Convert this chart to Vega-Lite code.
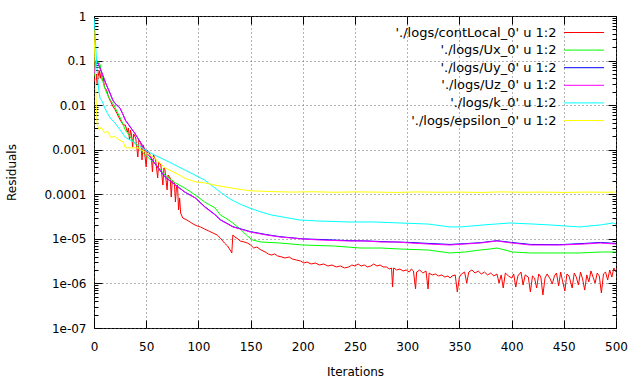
{
"$schema":"https://vega.github.io/schema/vega-lite/v6.json",
"width":522,"height":312,"autosize":"none",
"padding":{"left":94,"top":16,"right":24,"bottom":56},
"background":"white",
"config":{"font":"DejaVu Sans","view":{"stroke":"#000000","strokeWidth":1},
"axis":{"labelFontSize":12,"titleFontSize":12,"titleFontWeight":"normal","labelColor":"#000","titleColor":"#000","tickColor":"#000","tickWidth":1,"tickOpacity":1,"domain":false,"gridDash":[1,3],"gridColor":"#666666","gridWidth":1,"labelFlush":false,"labelOverlap":false,"labelBound":false,"zindex":1}},
"data":{"values":[
{"s":"contLocal","i":0,"v":0.04},{"s":"contLocal","i":1,"v":0.035},{"s":"contLocal","i":2,"v":0.05},{"s":"contLocal","i":3,"v":0.03},{"s":"contLocal","i":4,"v":0.045},{"s":"contLocal","i":5,"v":0.06},{"s":"contLocal","i":6,"v":0.04},{"s":"contLocal","i":7,"v":0.055},{"s":"contLocal","i":8,"v":0.035},{"s":"contLocal","i":9,"v":0.04},{"s":"contLocal","i":10,"v":0.025},{"s":"contLocal","i":12,"v":0.022},{"s":"contLocal","i":14,"v":0.015},{"s":"contLocal","i":16,"v":0.012},{"s":"contLocal","i":18,"v":0.0095},{"s":"contLocal","i":20,"v":0.008},{"s":"contLocal","i":22,"v":0.0065},{"s":"contLocal","i":24,"v":0.0052},{"s":"contLocal","i":26,"v":0.0043},{"s":"contLocal","i":28,"v":0.0036},
{"s":"contLocal","i":30,"v":0.00358},{"s":"contLocal","i":32,"v":0.0025},{"s":"contLocal","i":33,"v":0.00307},{"s":"contLocal","i":34,"v":0.00165},{"s":"contLocal","i":35,"v":0.00277},{"s":"contLocal","i":36,"v":0.00214},{"s":"contLocal","i":37,"v":0.00115},{"s":"contLocal","i":38,"v":0.00225},{"s":"contLocal","i":40,"v":0.00183},{"s":"contLocal","i":42,"v":0.000686},{"s":"contLocal","i":43,"v":0.00165},{"s":"contLocal","i":45,"v":0.00141},{"s":"contLocal","i":46,"v":0.000588},{"s":"contLocal","i":47,"v":0.00128},{"s":"contLocal","i":48,"v":0.00109},{"s":"contLocal","i":50,"v":0.000409},{"s":"contLocal","i":51,"v":0.000986},{"s":"contLocal","i":53,"v":0.000844},{"s":"contLocal","i":55,"v":0.000652},{"s":"contLocal","i":56,"v":0.000316},{"s":"contLocal","i":57,"v":0.000761},{"s":"contLocal","i":59,"v":0.000588},{"s":"contLocal","i":61,"v":0.000232},{"s":"contLocal","i":62,"v":0.00053},{"s":"contLocal","i":64,"v":0.000454},{"s":"contLocal","i":66,"v":0.000161},{"s":"contLocal","i":67,"v":0.000389},{"s":"contLocal","i":68,"v":0.000351},{"s":"contLocal","i":70,"v":0.000125},{"s":"contLocal","i":71,"v":0.000271},{"s":"contLocal","i":73,"v":0.000232},{"s":"contLocal","i":74,"v":0.0000869},{"s":"contLocal","i":75,"v":0.000209},{"s":"contLocal","i":77,"v":0.000179},{"s":"contLocal","i":78,"v":0.0000671},{"s":"contLocal","i":79,"v":0.000146},{"s":"contLocal","i":80,"v":0.000161},{"s":"contLocal","i":81,"v":0.0000444},{"s":"contLocal","i":82,"v":0.0000826},{"s":"contLocal","i":83,"v":0.000038},{"s":"contLocal","i":85,"v":0.0000294},{"s":"contLocal","i":89,"v":0.0000265},{"s":"contLocal","i":92,"v":0.0000239},{"s":"contLocal","i":95,"v":0.0000215},{"s":"contLocal","i":99,"v":0.0000194},{"s":"contLocal","i":102,"v":0.0000185},{"s":"contLocal","i":106,"v":0.0000166},{"s":"contLocal","i":110,"v":0.000015},{"s":"contLocal","i":114,"v":0.0000135},{"s":"contLocal","i":118,"v":0.0000122},{"s":"contLocal","i":121,"v":0.0000104},{"s":"contLocal","i":125,"v":0.00000807},{"s":"contLocal","i":128,"v":0.00000691},{"s":"contLocal","i":131,"v":0.00000534},{"s":"contLocal","i":132,"v":0.00000482},{"s":"contLocal","i":133,"v":0.0000122},{"s":"contLocal","i":135,"v":0.000011},{"s":"contLocal","i":138,"v":0.0000099},{"s":"contLocal","i":140,"v":0.00000895},{"s":"contLocal","i":144,"v":0.0000085},{"s":"contLocal","i":147,"v":0.00000807},{"s":"contLocal","i":150,"v":0.00000728},{"s":"contLocal","i":153,"v":0.00000623},{"s":"contLocal","i":156,"v":0.00000656},{"s":"contLocal","i":160,"v":0.00000562},{"s":"contLocal","i":164,"v":0.00000507},{"s":"contLocal","i":167,"v":0.00000457},{"s":"contLocal","i":170,"v":0.00000434},{"s":"contLocal","i":173,"v":0.00000457},{"s":"contLocal","i":176,"v":0.00000412},{"s":"contLocal","i":180,"v":0.00000392},{"s":"contLocal","i":183,"v":0.00000372},{"s":"contLocal","i":187,"v":0.00000392},{"s":"contLocal","i":190,"v":0.00000353},{"s":"contLocal","i":194,"v":0.00000335},{"s":"contLocal","i":198,"v":0.00000318},{"s":"contLocal","i":201,"v":0.00000287},{"s":"contLocal","i":204,"v":0.00000302},{"s":"contLocal","i":208,"v":0.00000273},{"s":"contLocal","i":212,"v":0.00000287},{"s":"contLocal","i":216,"v":0.00000259},{"s":"contLocal","i":220,"v":0.00000273},{"s":"contLocal","i":224,"v":0.00000246},{"s":"contLocal","i":228,"v":0.00000259},{"s":"contLocal","i":232,"v":0.00000234},{"s":"contLocal","i":236,"v":0.00000246},{"s":"contLocal","i":240,"v":0.00000222},{"s":"contLocal","i":244,"v":0.00000234},{"s":"contLocal","i":247,"v":0.00000259},{"s":"contLocal","i":250,"v":0.00000246},{"s":"contLocal","i":253,"v":0.00000273},{"s":"contLocal","i":256,"v":0.00000246},{"s":"contLocal","i":259,"v":0.00000259},{"s":"contLocal","i":262,"v":0.00000234},{"s":"contLocal","i":265,"v":0.00000246},{"s":"contLocal","i":268,"v":0.00000273},{"s":"contLocal","i":271,"v":0.00000246},{"s":"contLocal","i":274,"v":0.00000259},{"s":"contLocal","i":277,"v":0.00000234},
{"s":"contLocal","i":280,"v":0.00000234},{"s":"contLocal","i":283,"v":0.00000211},{"s":"contLocal","i":285,"v":0.00000222},{"s":"contLocal","i":286,"v":0.00000083},{"s":"contLocal","i":287,"v":0.00000222},{"s":"contLocal","i":290,"v":0.000002},{"s":"contLocal","i":293,"v":0.00000211},{"s":"contLocal","i":296,"v":0.0000019},{"s":"contLocal","i":299,"v":0.000002},{"s":"contLocal","i":302,"v":0.0000018},{"s":"contLocal","i":304,"v":0.00000211},{"s":"contLocal","i":306,"v":0.0000019},{"s":"contLocal","i":308,"v":0.00000075},{"s":"contLocal","i":309,"v":0.0000018},{"s":"contLocal","i":312,"v":0.000002},{"s":"contLocal","i":315,"v":0.00000171},{"s":"contLocal","i":318,"v":0.0000019},{"s":"contLocal","i":320,"v":0.00000075},{"s":"contLocal","i":321,"v":0.00000171},{"s":"contLocal","i":324,"v":0.00000155},{"s":"contLocal","i":327,"v":0.00000163},{"s":"contLocal","i":330,"v":0.00000147},{"s":"contLocal","i":333,"v":0.00000155},{"s":"contLocal","i":336,"v":0.00000139},{"s":"contLocal","i":339,"v":0.00000147},{"s":"contLocal","i":341,"v":0.00000132},{"s":"contLocal","i":343,"v":0.00000147},{"s":"contLocal","i":346,"v":0.00000155},{"s":"contLocal","i":348,"v":0.000000642},{"s":"contLocal","i":350,"v":0.00000139},{"s":"contLocal","i":352,"v":0.00000163},{"s":"contLocal","i":355,"v":0.0000018},{"s":"contLocal","i":357,"v":0.00000102},{"s":"contLocal","i":359,"v":0.0000018},{"s":"contLocal","i":362,"v":0.000002},{"s":"contLocal","i":365,"v":0.00000171},{"s":"contLocal","i":368,"v":0.0000019},{"s":"contLocal","i":371,"v":0.00000163},{"s":"contLocal","i":374,"v":0.0000018},{"s":"contLocal","i":377,"v":0.00000155},{"s":"contLocal","i":380,"v":0.00000171},{"s":"contLocal","i":383,"v":0.00000147},{"s":"contLocal","i":386,"v":0.00000163},{"s":"contLocal","i":388,"v":0.00000102},{"s":"contLocal","i":390,"v":0.00000155},{"s":"contLocal","i":392,"v":0.00000079},{"s":"contLocal","i":394,"v":0.00000171},{"s":"contLocal","i":397,"v":0.00000147},{"s":"contLocal","i":400,"v":0.00000132},{"s":"contLocal","i":402,"v":0.00000163},{"s":"contLocal","i":404,"v":0.00000083},{"s":"contLocal","i":406,"v":0.00000147},{"s":"contLocal","i":409,"v":0.0000018},{"s":"contLocal","i":411,"v":0.00000092},{"s":"contLocal","i":413,"v":0.00000155},{"s":"contLocal","i":416,"v":0.00000139},{"s":"contLocal","i":418,"v":0.000000642},{"s":"contLocal","i":420,"v":0.00000147},{"s":"contLocal","i":422,"v":0.00000132},{"s":"contLocal","i":424,"v":0.00000079},{"s":"contLocal","i":426,"v":0.00000163},{"s":"contLocal","i":428,"v":0.00000139},{"s":"contLocal","i":430,"v":0.00000055},{"s":"contLocal","i":432,"v":0.00000132},{"s":"contLocal","i":434,"v":0.00000163},{"s":"contLocal","i":437,"v":0.00000126},{"s":"contLocal","i":439,"v":0.00000097},{"s":"contLocal","i":441,"v":0.00000147},{"s":"contLocal","i":443,"v":0.00000171},{"s":"contLocal","i":445,"v":0.000000875},{"s":"contLocal","i":447,"v":0.0000018},{"s":"contLocal","i":449,"v":0.00000108},{"s":"contLocal","i":451,"v":0.000000676},{"s":"contLocal","i":453,"v":0.00000163},{"s":"contLocal","i":455,"v":0.00000147},{"s":"contLocal","i":458,"v":0.00000079},{"s":"contLocal","i":460,"v":0.00000171},{"s":"contLocal","i":462,"v":0.00000139},{"s":"contLocal","i":464,"v":0.00000092},{"s":"contLocal","i":466,"v":0.0000018},{"s":"contLocal","i":468,"v":0.00000126},{"s":"contLocal","i":470,"v":0.00000071},{"s":"contLocal","i":472,"v":0.00000155},{"s":"contLocal","i":474,"v":0.00000108},{"s":"contLocal","i":476,"v":0.0000019},{"s":"contLocal","i":478,"v":0.00000139},{"s":"contLocal","i":480,"v":0.00000102},{"s":"contLocal","i":482,"v":0.00000171},{"s":"contLocal","i":484,"v":0.00000147},{"s":"contLocal","i":486,"v":0.00000061},{"s":"contLocal","i":488,"v":0.00000163},{"s":"contLocal","i":490,"v":0.0000018},{"s":"contLocal","i":492,"v":0.00000119},{"s":"contLocal","i":494,"v":0.000002},{"s":"contLocal","i":496,"v":0.00000139},{"s":"contLocal","i":498,"v":0.00000222},{"s":"contLocal","i":500,"v":0.0000018},
{"s":"Ux","i":0,"v":0.045},{"s":"Ux","i":1,"v":0.06},{"s":"Ux","i":2,"v":0.09},{"s":"Ux","i":3,"v":0.1},{"s":"Ux","i":4,"v":0.095},{"s":"Ux","i":5,"v":0.088},{"s":"Ux","i":6,"v":0.08},{"s":"Ux","i":7,"v":0.055},{"s":"Ux","i":8,"v":0.04},{"s":"Ux","i":9,"v":0.031},{"s":"Ux","i":11,"v":0.022},{"s":"Ux","i":13,"v":0.017},{"s":"Ux","i":15,"v":0.014},{"s":"Ux","i":18,"v":0.011},{"s":"Ux","i":20,"v":0.009},{"s":"Ux","i":23,"v":0.0065},{"s":"Ux","i":26,"v":0.0047},{"s":"Ux","i":28,"v":0.0036},{"s":"Ux","i":30,"v":0.00277},{"s":"Ux","i":39,"v":0.00141},{"s":"Ux","i":49,"v":0.000761},{"s":"Ux","i":58,"v":0.000503},{"s":"Ux","i":68,"v":0.000271},{"s":"Ux","i":78,"v":0.000179},{"s":"Ux","i":87,"v":0.000138},{"s":"Ux","i":97,"v":0.0000964},{"s":"Ux","i":106,"v":0.0000671},{"s":"Ux","i":116,"v":0.0000492},{"s":"Ux","i":121,"v":0.0000343},{"s":"Ux","i":126,"v":0.0000294},{"s":"Ux","i":133,"v":0.0000227},{"s":"Ux","i":140,"v":0.0000166},{"s":"Ux","i":147,"v":0.0000116},{"s":"Ux","i":152,"v":0.00000942},{"s":"Ux","i":160,"v":0.0000085},{"s":"Ux","i":178,"v":0.00000807},{"s":"Ux","i":200,"v":0.00000728},{"s":"Ux","i":230,"v":0.00000691},{"s":"Ux","i":255,"v":0.00000623},{"s":"Ux","i":275,"v":0.00000623},{"s":"Ux","i":293,"v":0.00000592},{"s":"Ux","i":320,"v":0.00000562},{"s":"Ux","i":341,"v":0.00000482},{"s":"Ux","i":355,"v":0.00000507},{"s":"Ux","i":370,"v":0.00000562},{"s":"Ux","i":379,"v":0.00000592},{"s":"Ux","i":386,"v":0.00000623},{"s":"Ux","i":401,"v":0.00000507},{"s":"Ux","i":418,"v":0.00000482},{"s":"Ux","i":434,"v":0.00000482},{"s":"Ux","i":450,"v":0.00000482},{"s":"Ux","i":465,"v":0.00000482},{"s":"Ux","i":485,"v":0.00000507},{"s":"Ux","i":500,"v":0.00000507},
{"s":"Uy","i":0,"v":0.05},{"s":"Uy","i":1,"v":0.07},{"s":"Uy","i":2,"v":0.1},{"s":"Uy","i":3,"v":0.095},{"s":"Uy","i":4,"v":0.085},{"s":"Uy","i":5,"v":0.075},{"s":"Uy","i":6,"v":0.065},{"s":"Uy","i":8,"v":0.05},{"s":"Uy","i":10,"v":0.037},{"s":"Uy","i":12,"v":0.028},{"s":"Uy","i":14,"v":0.022},{"s":"Uy","i":16,"v":0.017},{"s":"Uy","i":18,"v":0.013},{"s":"Uy","i":20,"v":0.011},{"s":"Uy","i":23,"v":0.0095},{"s":"Uy","i":25,"v":0.0085},{"s":"Uy","i":28,"v":0.006},{"s":"Uy","i":30,"v":0.0046},{"s":"Uy","i":39,"v":0.00235},{"s":"Uy","i":49,"v":0.00098},{"s":"Uy","i":58,"v":0.0005},{"s":"Uy","i":68,"v":0.000245},{"s":"Uy","i":78,"v":0.000162},{"s":"Uy","i":87,"v":0.000112},{"s":"Uy","i":97,"v":0.000083},{"s":"Uy","i":106,"v":0.000053},{"s":"Uy","i":116,"v":0.000035},{"s":"Uy","i":121,"v":0.000027},{"s":"Uy","i":133,"v":0.0000188},{"s":"Uy","i":150,"v":0.0000145},{"s":"Uy","i":165,"v":0.0000125},{"s":"Uy","i":178,"v":0.0000112},{"s":"Uy","i":200,"v":0.00001},{"s":"Uy","i":216,"v":0.0000097},{"s":"Uy","i":245,"v":0.0000091},{"s":"Uy","i":260,"v":0.000009},{"s":"Uy","i":275,"v":0.0000087},{"s":"Uy","i":290,"v":0.0000085},{"s":"Uy","i":303,"v":0.0000083},{"s":"Uy","i":320,"v":0.0000079},{"s":"Uy","i":341,"v":0.0000075},{"s":"Uy","i":355,"v":0.0000078},{"s":"Uy","i":370,"v":0.0000082},{"s":"Uy","i":386,"v":0.0000091},{"s":"Uy","i":400,"v":0.0000083},{"s":"Uy","i":418,"v":0.0000075},{"s":"Uy","i":446,"v":0.0000074},{"s":"Uy","i":470,"v":0.0000079},{"s":"Uy","i":485,"v":0.0000083},{"s":"Uy","i":500,"v":0.0000079},
{"s":"Uz","i":0,"v":0.05},{"s":"Uz","i":1,"v":0.07},{"s":"Uz","i":2,"v":0.1},{"s":"Uz","i":3,"v":0.095},{"s":"Uz","i":4,"v":0.085},{"s":"Uz","i":5,"v":0.075},{"s":"Uz","i":6,"v":0.065},{"s":"Uz","i":8,"v":0.05},{"s":"Uz","i":10,"v":0.037},{"s":"Uz","i":12,"v":0.028},{"s":"Uz","i":14,"v":0.022},{"s":"Uz","i":16,"v":0.017},{"s":"Uz","i":18,"v":0.013},{"s":"Uz","i":20,"v":0.011},{"s":"Uz","i":23,"v":0.0095},{"s":"Uz","i":25,"v":0.0085},{"s":"Uz","i":28,"v":0.006},{"s":"Uz","i":30,"v":0.00464},{"s":"Uz","i":39,"v":0.00237},{"s":"Uz","i":49,"v":0.000986},{"s":"Uz","i":58,"v":0.000503},{"s":"Uz","i":68,"v":0.000244},{"s":"Uz","i":78,"v":0.000161},{"s":"Uz","i":87,"v":0.000112},{"s":"Uz","i":97,"v":0.0000826},{"s":"Uz","i":106,"v":0.0000518},{"s":"Uz","i":116,"v":0.0000343},{"s":"Uz","i":121,"v":0.0000265},{"s":"Uz","i":133,"v":0.0000185},{"s":"Uz","i":150,"v":0.0000142},{"s":"Uz","i":165,"v":0.0000122},{"s":"Uz","i":178,"v":0.000011},{"s":"Uz","i":200,"v":0.00000993},{"s":"Uz","i":216,"v":0.00000942},{"s":"Uz","i":245,"v":0.00000895},{"s":"Uz","i":260,"v":0.00000895},{"s":"Uz","i":275,"v":0.0000085},{"s":"Uz","i":290,"v":0.0000085},{"s":"Uz","i":303,"v":0.00000807},{"s":"Uz","i":320,"v":0.00000766},{"s":"Uz","i":341,"v":0.00000728},{"s":"Uz","i":355,"v":0.00000766},{"s":"Uz","i":370,"v":0.00000807},{"s":"Uz","i":386,"v":0.00000895},{"s":"Uz","i":400,"v":0.00000807},{"s":"Uz","i":418,"v":0.00000728},{"s":"Uz","i":446,"v":0.00000728},{"s":"Uz","i":470,"v":0.00000766},{"s":"Uz","i":485,"v":0.00000807},{"s":"Uz","i":500,"v":0.00000766},
{"s":"k","i":0,"v":0.9},{"s":"k","i":1,"v":0.45},{"s":"k","i":2,"v":0.15},{"s":"k","i":3,"v":0.06},{"s":"k","i":4,"v":0.03},{"s":"k","i":5,"v":0.018},{"s":"k","i":6,"v":0.014},{"s":"k","i":8,"v":0.012},{"s":"k","i":10,"v":0.009},{"s":"k","i":13,"v":0.0065},{"s":"k","i":16,"v":0.005},{"s":"k","i":20,"v":0.004},{"s":"k","i":25,"v":0.0028},{"s":"k","i":30,"v":0.0019},{"s":"k","i":40,"v":0.0014},{"s":"k","i":49,"v":0.000986},{"s":"k","i":58,"v":0.00076},{"s":"k","i":68,"v":0.000588},{"s":"k","i":87,"v":0.000351},{"s":"k","i":106,"v":0.000209},{"s":"k","i":116,"v":0.000138},{"s":"k","i":121,"v":0.000112},{"s":"k","i":130,"v":0.000079},{"s":"k","i":140,"v":0.00006},{"s":"k","i":149,"v":0.0000492},{"s":"k","i":160,"v":0.00004},{"s":"k","i":170,"v":0.0000343},{"s":"k","i":181,"v":0.0000309},{"s":"k","i":197,"v":0.0000265},{"s":"k","i":215,"v":0.0000251},{"s":"k","i":245,"v":0.0000239},{"s":"k","i":270,"v":0.0000239},{"s":"k","i":293,"v":0.0000227},{"s":"k","i":320,"v":0.0000215},{"s":"k","i":341,"v":0.0000185},{"s":"k","i":351,"v":0.0000185},{"s":"k","i":373,"v":0.0000205},{"s":"k","i":398,"v":0.0000227},{"s":"k","i":420,"v":0.0000215},{"s":"k","i":437,"v":0.0000205},{"s":"k","i":465,"v":0.0000185},{"s":"k","i":485,"v":0.0000205},{"s":"k","i":497,"v":0.0000227},{"s":"k","i":500,"v":0.0000215},
{"s":"epsilon","i":0,"v":0.5},{"s":"epsilon","i":1,"v":0.08},{"s":"epsilon","i":2,"v":0.013},{"s":"epsilon","i":3,"v":0.0036},{"s":"epsilon","i":5,"v":0.0028},{"s":"epsilon","i":7,"v":0.0032},{"s":"epsilon","i":10,"v":0.0024},{"s":"epsilon","i":13,"v":0.0026},{"s":"epsilon","i":16,"v":0.0019},{"s":"epsilon","i":20,"v":0.002},{"s":"epsilon","i":24,"v":0.00165},{"s":"epsilon","i":28,"v":0.0015},{"s":"epsilon","i":30,"v":0.0011},{"s":"epsilon","i":42,"v":0.0011},{"s":"epsilon","i":49,"v":0.00089},{"s":"epsilon","i":58,"v":0.00065},{"s":"epsilon","i":68,"v":0.00039},{"s":"epsilon","i":78,"v":0.0003},{"s":"epsilon","i":87,"v":0.00023},{"s":"epsilon","i":97,"v":0.00019},{"s":"epsilon","i":106,"v":0.00018},{"s":"epsilon","i":116,"v":0.00016},{"s":"epsilon","i":130,"v":0.00014},{"s":"epsilon","i":149,"v":0.00012},{"s":"epsilon","i":170,"v":0.000115},{"s":"epsilon","i":190,"v":0.000112},{"s":"epsilon","i":210,"v":0.000114},{"s":"epsilon","i":230,"v":0.000111},{"s":"epsilon","i":250,"v":0.000113},{"s":"epsilon","i":270,"v":0.000112},{"s":"epsilon","i":290,"v":0.00011},{"s":"epsilon","i":310,"v":0.000113},{"s":"epsilon","i":330,"v":0.000111},{"s":"epsilon","i":350,"v":0.000112},{"s":"epsilon","i":370,"v":0.00011},{"s":"epsilon","i":390,"v":0.000113},{"s":"epsilon","i":410,"v":0.000111},{"s":"epsilon","i":430,"v":0.000112},{"s":"epsilon","i":450,"v":0.00011},{"s":"epsilon","i":470,"v":0.000112},{"s":"epsilon","i":490,"v":0.000111},{"s":"epsilon","i":500,"v":0.000112}
]},
"layer":[
{"mark":{"type":"line","strokeWidth":1,"clip":true},
"encoding":{
"x":{"field":"i","type":"quantitative","scale":{"domain":[0,500],"nice":false,"zero":false},
"axis":{"orient":"bottom","title":"Iterations","values":[0,50,100,150,200,250,300,350,400,450,500],"grid":true,"gridOpacity":1,"ticks":false,"tickSize":0,"labelPadding":13,"titlePadding":14}},
"y":{"field":"v","type":"quantitative","scale":{"type":"log","domain":[1e-7,1],"nice":false},
"axis":{"orient":"left","title":"Residuals","grid":true,"ticks":false,"tickSize":0,
"values":[1e-7,1e-6,1e-5,1e-4,0.001,0.01,0.1,1],
"labelExpr":"round(log(datum.value)/LN10) == 0 ? '1' : round(log(datum.value)/LN10) == -1 ? '0.1' : round(log(datum.value)/LN10) == -2 ? '0.01' : round(log(datum.value)/LN10) == -3 ? '0.001' : round(log(datum.value)/LN10) == -4 ? '0.0001' : '1e-0' + (-round(log(datum.value)/LN10))",
"labelPadding":8,"titlePadding":26}},
"color":{"field":"s","type":"nominal",
"scale":{"domain":["contLocal","Ux","Uy","Uz","k","epsilon"],"range":["#ff0000","#00ff00","#0000ff","#ff00ff","#00ffff","#ffff00"]},
"legend":{"title":null,"orient":"none","legendX":483.5,"legendY":10,"symbolType":"M-5,0H5","symbolSize":64,"symbolStrokeWidth":1,"labelAlign":"right","labelOffset":-34,"labelFontSize":13,"labelLimit":400,"labelColor":"#000","rowPadding":3.6,"padding":0,
"labelExpr":"\"'./logs/\" + datum.label + \"_0' u 1:2\""}}}},
{"mark":{"type":"point","opacity":0},
"encoding":{
"x":{"field":"i","type":"quantitative","scale":{"domain":[0,500],"nice":false,"zero":false},
"axis":{"orient":"top","offset":-312,"title":null,"labels":false,"grid":false,"values":[0,50,100,150,200,250,300,350,400,450,500],"tickSize":8}},
"y":{"field":"v","type":"quantitative","scale":{"type":"log","domain":[1e-7,1],"nice":false},
"axis":{"orient":"right","offset":-522,"title":null,"labels":false,"grid":false,
"values":[1e-7,2e-7,3e-7,4e-7,5e-7,6e-7,7e-7,8e-7,9e-7,1e-6,2e-6,3e-6,4e-6,5e-6,6e-6,7e-6,8e-6,9e-6,1e-5,2e-5,3e-5,4e-5,5e-5,6e-5,7e-5,8e-5,9e-5,1e-4,2e-4,3e-4,4e-4,5e-4,6e-4,7e-4,8e-4,9e-4,0.001,0.002,0.003,0.004,0.005,0.006,0.007,0.008,0.009,0.01,0.02,0.03,0.04,0.05,0.06,0.07,0.08,0.09,0.1,0.2,0.3,0.4,0.5,0.6,0.7,0.8,0.9,1],
"tickSize":{"condition":{"test":"abs(log(datum.value)/LN10 - round(log(datum.value)/LN10)) < 0.001","value":8},"value":4}}}}},
{"mark":{"type":"point","opacity":0},
"encoding":{
"x":{"field":"i","type":"quantitative","scale":{"domain":[0,500],"nice":false,"zero":false},
"axis":{"orient":"bottom","offset":-312,"title":null,"labels":false,"grid":false,"values":[0,50,100,150,200,250,300,350,400,450,500],"tickSize":8}},
"y":{"field":"v","type":"quantitative","scale":{"type":"log","domain":[1e-7,1],"nice":false},
"axis":{"orient":"left","offset":-522,"title":null,"labels":false,"grid":false,
"values":[1e-7,2e-7,3e-7,4e-7,5e-7,6e-7,7e-7,8e-7,9e-7,1e-6,2e-6,3e-6,4e-6,5e-6,6e-6,7e-6,8e-6,9e-6,1e-5,2e-5,3e-5,4e-5,5e-5,6e-5,7e-5,8e-5,9e-5,1e-4,2e-4,3e-4,4e-4,5e-4,6e-4,7e-4,8e-4,9e-4,0.001,0.002,0.003,0.004,0.005,0.006,0.007,0.008,0.009,0.01,0.02,0.03,0.04,0.05,0.06,0.07,0.08,0.09,0.1,0.2,0.3,0.4,0.5,0.6,0.7,0.8,0.9,1],
"tickSize":{"condition":{"test":"abs(log(datum.value)/LN10 - round(log(datum.value)/LN10)) < 0.001","value":8},"value":4}}}}}
],
"resolve":{"scale":{"x":"independent","y":"independent"}}
}
